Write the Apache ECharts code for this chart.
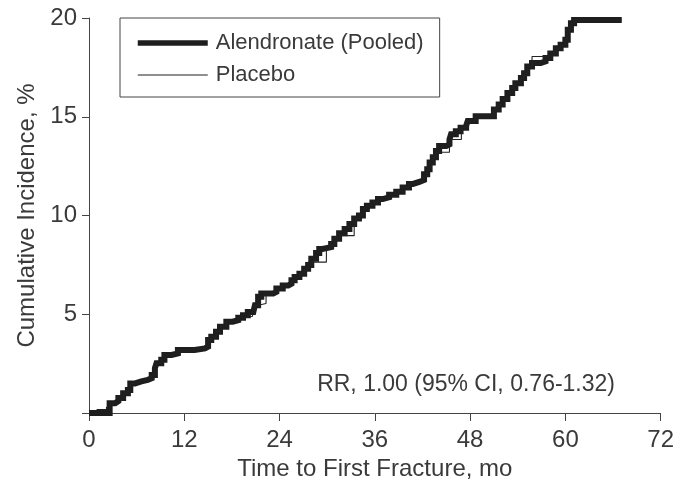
<!DOCTYPE html>
<html><head><meta charset="utf-8">
<script src="https://cdn.jsdelivr.net/npm/echarts@6/dist/echarts.min.js"></script>
<style>html,body{margin:0;padding:0;background:#fff}#c{width:677px;height:486px}</style>
</head><body><div id="c"></div>
<script>
const xTicks = [0, 12, 24, 36, 48, 60, 72];
const yTicks = [0, 5, 10, 15, 20];
const seriesNames = ['Alendronate (Pooled)', 'Placebo'];
const xTitle = 'Time to First Fracture, mo';
const yTitle = 'Cumulative Incidence, %';
const annotation = 'RR, 1.00 (95% CI, 0.76-1.32)';

// [month, cumulative incidence %]
const alendronate = [
  [0,0],[2.6,0.5],[3.3,0.6],[3.7,0.76],[4.3,1.0],[4.9,1.17],[5.2,1.5],[5.8,1.6],[6.6,1.68],[7.4,1.76],
  [7.9,1.93],[8.3,2.27],[8.5,2.52],[9.1,2.69],[9.5,2.94],[10.4,3.02],[11.2,3.19],[13.3,3.27],[14.6,3.36],
  [15.0,3.69],[15.4,3.86],[16.0,4.12],[16.5,4.37],[17.3,4.62],[18.1,4.70],[18.8,4.82],[19.4,4.95],
  [20.0,5.12],[20.7,5.20],[20.9,5.46],[21.3,5.88],[21.7,6.05],[23.2,6.13],[23.6,6.30],[24.4,6.46],
  [25.1,6.55],[25.5,6.72],[25.9,6.89],[26.5,7.05],[27.1,7.30],[27.6,7.5],[28.0,7.81],[28.6,8.1],
  [29.0,8.31],[29.4,8.40],[30.5,8.56],[30.9,8.82],[31.5,9.1],[32.2,9.32],[32.8,9.57],[33.4,9.85],
  [34.0,10.0],[34.5,10.33],[35.0,10.5],[35.7,10.66],[36.4,10.83],[37.0,10.92],[37.8,11.05],[38.7,11.2],
  [39.5,11.42],[40.3,11.6],[40.8,11.7],[41.6,11.8],[42.2,12.09],[42.6,12.34],[42.9,12.68],[43.3,12.95],
  [43.7,13.26],[44.1,13.52],[45.0,13.6],[45.4,13.85],[45.6,14.11],[46.2,14.27],[46.8,14.44],[47.5,14.55],
  [47.7,14.78],[48.7,15.03],[51.0,15.37],[51.6,15.62],[52.1,15.9],[52.7,16.2],[53.3,16.45],[53.7,16.7],
  [54.4,16.96],[54.8,17.2],[55.2,17.55],[55.8,17.72],[56.9,17.8],[57.5,17.97],[58.1,18.2],[58.8,18.47],
  [59.4,18.64],[60.0,18.9],[60.3,19.4],[60.7,19.73],[61.1,19.9],[67.1,19.9]
];
const placebo = [
  [0,0],[1.0,0.17],[2.2,0.29],[2.6,0.5],[3.3,0.6],[3.7,0.76],[4.3,1.0],[4.9,1.17],[5.2,1.5],[5.8,1.6],
  [6.6,1.68],[7.9,1.93],[8.3,2.27],[8.5,2.52],[9.1,2.69],[9.5,2.94],[10.4,3.02],[11.2,3.19],[13.3,3.27],
  [14.6,3.36],[15.0,3.69],[15.4,3.86],[16.0,4.12],[16.5,4.37],[17.3,4.62],[18.1,4.70],[18.8,4.82],
  [19.4,4.90],[20.6,5.20],[20.9,5.46],[21.3,5.54],[22.3,6.05],[23.2,6.13],[23.6,6.30],[24.4,6.46],
  [25.1,6.55],[25.5,6.72],[25.9,6.89],[26.5,7.05],[27.1,7.30],[27.6,7.64],[29.9,8.31],[30.3,8.45],
  [30.9,8.82],[31.5,8.98],[33.4,9.5],[33.6,9.85],[34.0,10.0],[34.5,10.33],[35.0,10.5],[35.7,10.66],
  [36.4,10.83],[37.0,10.92],[37.8,11.05],[38.7,11.2],[39.5,11.42],[40.3,11.6],[40.8,11.7],[41.6,11.8],
  [42.2,12.0],[42.6,12.34],[42.9,12.68],[43.3,12.95],[43.7,13.2],[45.4,13.85],[46.9,14.44],[47.5,14.55],
  [47.7,14.78],[48.7,15.03],[51.0,15.37],[51.6,15.62],[52.0,15.9],[52.9,16.2],[53.3,16.45],[53.7,16.7],
  [54.4,16.96],[54.8,17.2],[55.2,17.55],[55.8,18.05],[57.9,18.1],[58.5,18.3],[58.8,18.47],
  [59.4,18.64],[60.0,18.9],[60.3,19.4],[60.7,19.73],[61.1,19.9],[67.1,19.9]
];

const FONT = 'Liberation Sans';
const TXT = '#3a3a3a';
const AX = '#444';
const noMarker = {color: 'rgba(0,0,0,0)', borderWidth: 0, opacity: 0};

const chart = echarts.init(document.getElementById('c'), null, {renderer: 'canvas'});
chart.setOption({
  animation: false,
  backgroundColor: '#fff',
  textStyle: {fontFamily: FONT, color: TXT},
  grid: {left: 89, right: 15, top: 18, bottom: 71, containLabel: false},
  legend: {
    orient: 'vertical', left: 120, top: 18,
    data: [
      {name: seriesNames[0], lineStyle: {width: 5.5, color: '#1e1e1e'}, itemStyle: noMarker},
      {name: seriesNames[1], lineStyle: {width: 1, color: '#1e1e1e'}, itemStyle: noMarker}
    ],
    borderColor: AX, borderWidth: 1, borderRadius: 0,
    padding: [13, 16, 10, 15],
    itemWidth: 70, itemHeight: 14, itemGap: 8,
    textStyle: {fontFamily: FONT, fontSize: 22, color: TXT, lineHeight: 24, padding: [0, 0, 0, 3]}
  },
  xAxis: {
    type: 'value', min: xTicks[0], max: xTicks[xTicks.length - 1], interval: 12,
    name: xTitle, nameLocation: 'middle', nameGap: 44,
    nameTextStyle: {fontFamily: FONT, fontSize: 24, color: TXT},
    axisLine: {show: true, lineStyle: {color: AX, width: 1}},
    axisTick: {show: true, length: 8, lineStyle: {color: AX}},
    axisLabel: {fontFamily: FONT, fontSize: 24, color: TXT, margin: 15},
    splitLine: {show: false}
  },
  yAxis: {
    type: 'value', min: yTicks[0], max: yTicks[yTicks.length - 1], interval: 5,
    name: yTitle, nameLocation: 'middle', nameGap: 48, nameRotate: 90,
    nameTextStyle: {fontFamily: FONT, fontSize: 24, color: TXT},
    axisLine: {show: true, lineStyle: {color: AX, width: 1}},
    axisTick: {show: true, length: 7, lineStyle: {color: AX}},
    axisLabel: {fontFamily: FONT, fontSize: 24, color: TXT, margin: 12,
      formatter: v => (v === 0 ? '' : String(v))},
    splitLine: {show: false}
  },
  graphic: [{
    type: 'text', right: 62, top: 373,
    style: {text: annotation, fontFamily: FONT, fontSize: 23, fill: TXT}
  }],
  series: [
    {
      name: seriesNames[0], type: 'line', step: 'end', data: alendronate,
      symbol: 'none', showSymbol: false, z: 2,
      lineStyle: {color: '#1e1e1e', width: 6, join: 'miter'},
      itemStyle: {color: '#1e1e1e'}
    },
    {
      name: seriesNames[1], type: 'line', step: 'end', data: placebo,
      symbol: 'none', showSymbol: false, z: 3,
      lineStyle: {color: '#222', width: 1.1},
      itemStyle: {color: '#222'}
    }
  ]
});
</script></body></html>
